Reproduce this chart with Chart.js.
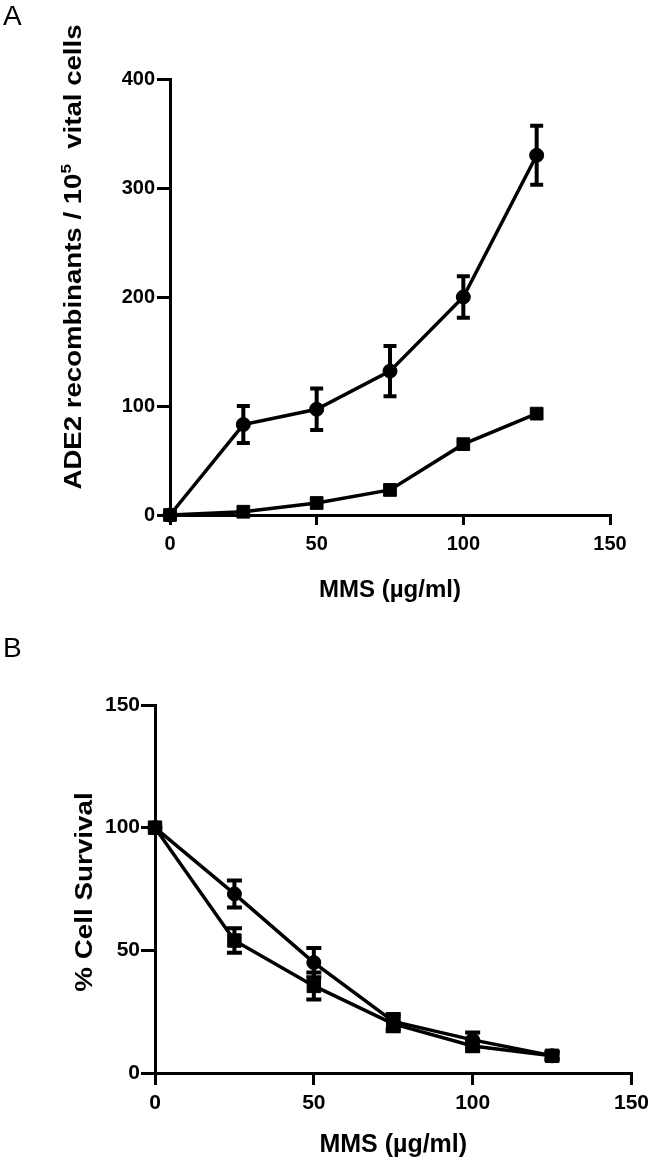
<!DOCTYPE html>
<html>
<head>
<meta charset="utf-8">
<script src="https://cdn.jsdelivr.net/npm/chart.js@4.4.0/dist/chart.umd.min.js"></script>
<style>
  html, body { margin: 0; padding: 0; background: #fff; }
  #wrapA { position: absolute; left: 0; top: 0; width: 655px; height: 605px; }
  #wrapB { position: absolute; left: 0; top: 605px; width: 655px; height: 561px; }
</style>
</head>
<body>
<div id="wrapA"><canvas id="chartA"></canvas></div>
<div id="wrapB"><canvas id="chartB"></canvas></div>
<script>
// MMS doses (µg/ml)
let doses = [0, 25, 50, 75, 100, 125];
let xTicks = [0, 50, 100, 150];
let recTicks = [0, 100, 200, 300, 400];
let survTicks = [0, 50, 100, 150];

// panel A: ADE2 recombinants / 10^5 vital cells
let recCircle = [0, 83, 97, 132, 200, 330];
let recCircleErr = [0, 17, 19, 23, 19, 27];
let recSquare = [0, 3, 11, 23, 65, 93];
let recSquareErr = [0, 0, 0, 0, 0, 0];

// panel B: % cell survival
let survCircle = [100, 73, 45, 21, 13.5, 7];
let survCircleErr = [0, 5.5, 6, 3, 3, 1.5];
let survSquare = [100, 54, 35.5, 20, 11, 7];
let survSquareErr = [0, 5, 5.5, 3, 2, 1.5];

let xTitle = "MMS (\u00b5g/ml)";
let recTitle = [
  { t: "ADE2 recombinants / 10" },
  { t: "5", sup: true },
  { t: "  vital cells" },
];
let survTitle = [{ t: "% Cell Survival" }];

const FONT = "'Liberation Sans', Arial, Helvetica, sans-serif";

let errorBars = {
  id: "errorBars",
  beforeDatasetsDraw: function (chart) {
    let ctx = chart.ctx;
    let xs = chart.scales.x;
    let ys = chart.scales.y;
    chart.data.datasets.forEach(function (ds) {
      if (!ds.errors) return;
      ctx.save();
      ctx.strokeStyle = "#000";
      ctx.lineWidth = 4;
      ds.data.forEach(function (p, i) {
        let e = ds.errors[i];
        if (!e) return;
        let x = xs.getPixelForValue(p.x);
        let top = ys.getPixelForValue(p.y + e);
        let bot = ys.getPixelForValue(p.y - e);
        let cap = ds.capHalf;
        ctx.beginPath();
        ctx.moveTo(x, top);
        ctx.lineTo(x, bot);
        ctx.moveTo(x - cap, top);
        ctx.lineTo(x + cap, top);
        ctx.moveTo(x - cap, bot);
        ctx.lineTo(x + cap, bot);
        ctx.stroke();
      });
      ctx.restore();
    });
  },
};

function titlesPlugin(cfg) {
  return {
    id: "figTitles",
    afterDraw: function (chart) {
      let ctx = chart.ctx;
      let area = chart.chartArea;
      ctx.save();
      ctx.fillStyle = "#000";
      ctx.textBaseline = "alphabetic";

      // panel letter
      ctx.font = "28px " + FONT;
      ctx.textAlign = "left";
      ctx.fillText(cfg.panel, 3, cfg.panelBase);

      // x title
      ctx.font = "bold " + cfg.xFont + "px " + FONT;
      ctx.textAlign = "center";
      ctx.fillText(xTitle, (area.left + area.right) / 2, cfg.xBase);

      // y title, rotated, with optional superscript
      ctx.textAlign = "left";
      let size = cfg.yFont;
      let parts = cfg.yParts.map(function (p) {
        let s = p.sup ? size * 0.62 : size;
        ctx.font = "bold " + s + "px " + FONT;
        return { t: p.t, s: s, sup: p.sup, w: ctx.measureText(p.t).width };
      });
      let total = parts.reduce(function (a, p) { return a + p.w; }, 0);
      ctx.translate(cfg.yBaseX, cfg.yCenter);
      ctx.rotate(-Math.PI / 2);
      ctx.scale(cfg.yStretch, 1);
      let pos = -total / 2;
      parts.forEach(function (p) {
        ctx.font = "bold " + p.s + "px " + FONT;
        ctx.fillText(p.t, pos, p.sup ? -size * 0.42 : 0);
        pos += p.w;
      });
      ctx.restore();
    },
  };
}

function line(values, errors, style, radius, cap) {
  return {
    data: doses.map(function (d, i) {
      return { x: d, y: values[i] };
    }),
    errors: errors,
    capHalf: cap,
    borderColor: "#000",
    backgroundColor: "#000",
    borderWidth: 3.5,
    tension: 0,
    pointStyle: style,
    pointRadius: radius,
    pointHoverRadius: radius,
    pointBackgroundColor: "#000",
    pointBorderColor: "#000",
    pointBorderWidth: 1,
    clip: false,
  };
}

function axis(ticks, tickLength, padding, fontSize, fit) {
  return {
    type: "linear",
    min: ticks[0],
    max: ticks[ticks.length - 1],
    afterBuildTicks: function (scale) {
      scale.ticks = ticks.map(function (v) { return { value: v }; });
    },
    afterFit: fit,
    grid: {
      drawOnChartArea: false,
      drawTicks: true,
      tickLength: tickLength,
      color: "#000",
      lineWidth: 3,
    },
    border: { display: true, color: "#000", width: 3 },
    ticks: {
      color: "#000",
      padding: padding,
      autoSkip: false,
      maxRotation: 0,
      font: { family: FONT, size: fontSize, weight: "bold" },
    },
  };
}

let chartA = new Chart(document.getElementById("chartA").getContext("2d"), {
  type: "line",
  data: {
    datasets: [
      line(recCircle, recCircleErr, "circle", 7, 6.5),
      line(recSquare, recSquareErr, "rect", 9, 6.5),
    ],
  },
  options: {
    responsive: true,
    maintainAspectRatio: false,
    animation: false,
    layout: { padding: { left: 0, top: 79, right: 45, bottom: 0 } },
    plugins: { legend: { display: false }, tooltip: { enabled: false } },
    scales: {
      x: axis(xTicks, 10, 7, 20, function (s) { s.height = 90; }),
      y: axis(recTicks, 13, 2, 20, function (s) { s.width = 170; }),
    },
  },
  plugins: [
    errorBars,
    titlesPlugin({
      panel: "A", panelBase: 25,
      xFont: 24, xBase: 597,
      yParts: recTitle, yFont: 24, yStretch: 1.15, yBaseX: 81, yCenter: 257,
    }),
  ],
});

let chartB = new Chart(document.getElementById("chartB").getContext("2d"), {
  type: "line",
  data: {
    datasets: [
      line(survCircle, survCircleErr, "circle", 7, 7.5),
      line(survSquare, survSquareErr, "rect", 9.5, 7.5),
    ],
  },
  options: {
    responsive: true,
    maintainAspectRatio: false,
    animation: false,
    layout: { padding: { left: 0, top: 100, right: 22, bottom: 0 } },
    plugins: { legend: { display: false }, tooltip: { enabled: false } },
    scales: {
      x: axis(xTicks, 12, 6, 21, function (s) { s.height = 93; }),
      y: axis(survTicks, 14, 1, 21, function (s) { s.width = 155; }),
    },
  },
  plugins: [
    errorBars,
    titlesPlugin({
      panel: "B", panelBase: 52,
      xFont: 25, xBase: 547,
      yParts: survTitle, yFont: 24, yStretch: 1.16, yBaseX: 92, yCenter: 287,
    }),
  ],
});
</script>
</body>
</html>
